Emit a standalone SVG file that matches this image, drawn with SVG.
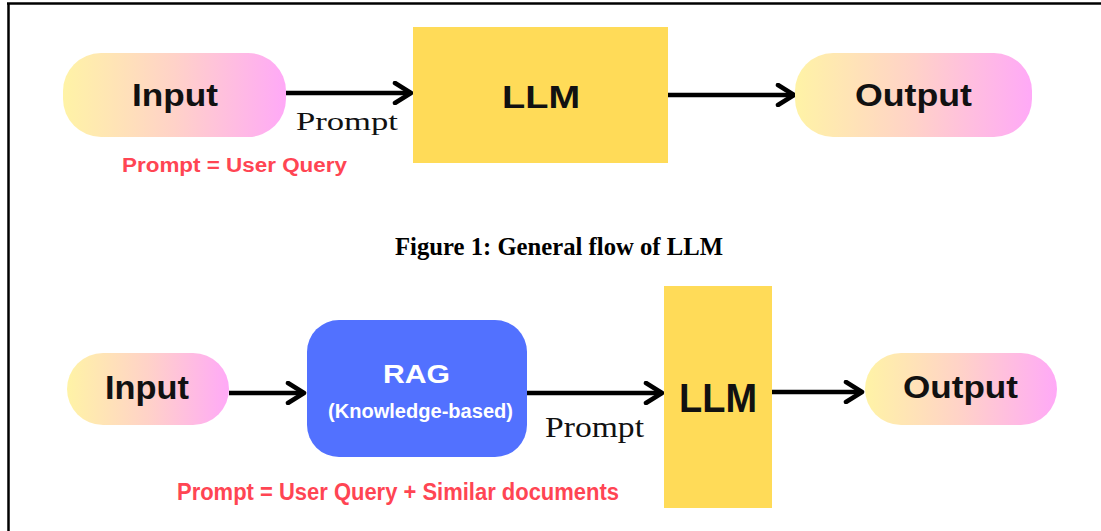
<svg xmlns="http://www.w3.org/2000/svg" width="1101" height="531" viewBox="0 0 1101 531">
<defs>
<linearGradient id="pill" x1="0" y1="0" x2="1" y2="0">
<stop offset="0" stop-color="#fff3a6"/>
<stop offset="0.5" stop-color="#ffd2c8"/>
<stop offset="1" stop-color="#ffa9f7"/>
</linearGradient>
<marker id="chev" markerUnits="userSpaceOnUse" viewBox="0 0 22 24" refX="19" refY="12" markerWidth="22" markerHeight="24" orient="auto">
<path d="M3,2 L19,12 L3,22" fill="none" stroke="#000" stroke-width="4.5" stroke-linecap="round" stroke-linejoin="round"/>
</marker>
<style>
.sans{font-family:"Liberation Sans",Arial,sans-serif;font-weight:bold;}
.serif{font-family:"Liberation Serif","Times New Roman",serif;}
.node{fill:#111;}
.red{fill:#ff4553;}
.white{fill:#fff;}
.conn{stroke:#000;stroke-width:4.5;fill:none;marker-end:url(#chev);}
.llm{fill:#ffdb58;}
</style>
</defs>
<rect width="1101" height="531" fill="#fff"/>
<g id="frame" stroke="#000" fill="none">
<line x1="7" y1="3.5" x2="1101" y2="3.5" stroke-width="2.5"/>
<line x1="8.5" y1="3" x2="8.5" y2="531" stroke-width="2.5"/>
</g>
<g id="connectors">
<line class="conn" x1="286" y1="93" x2="411" y2="93"/>
<line class="conn" x1="668" y1="95" x2="794" y2="95"/>
<line class="conn" x1="229" y1="393" x2="304" y2="393"/>
<line class="conn" x1="527" y1="393" x2="662" y2="393"/>
<line class="conn" x1="772" y1="392" x2="862" y2="392"/>
</g>
<g id="input1">
<rect x="63" y="53" width="223" height="84" rx="38" fill="url(#pill)"/>
<text class="sans node" x="132" y="106" font-size="32" textLength="86" lengthAdjust="spacingAndGlyphs">Input</text>
</g>
<g id="llm1">
<rect class="llm" x="413" y="27" width="255" height="136"/>
<text class="sans node" x="502" y="108" font-size="32" textLength="78" lengthAdjust="spacingAndGlyphs">LLM</text>
</g>
<g id="output1">
<rect x="795" y="53" width="237" height="84" rx="38" fill="url(#pill)"/>
<text class="sans node" x="855" y="106" font-size="32" textLength="117" lengthAdjust="spacingAndGlyphs">Output</text>
</g>
<text class="serif" x="296" y="130" font-size="26" fill="#111" textLength="102" lengthAdjust="spacingAndGlyphs">Prompt</text>
<text class="sans red" x="122" y="172" font-size="20" textLength="225" lengthAdjust="spacingAndGlyphs">Prompt = User Query</text>
<text x="395" y="255" font-family="Liberation Serif,'Times New Roman',serif" font-weight="bold" font-size="25" fill="#000" textLength="328" lengthAdjust="spacingAndGlyphs">Figure 1: General flow of LLM</text>
<g id="input2">
<rect x="67" y="353" width="162" height="72" rx="36" fill="url(#pill)"/>
<text class="sans node" x="105" y="399" font-size="34" textLength="84" lengthAdjust="spacingAndGlyphs">Input</text>
</g>
<g id="rag">
<rect x="307" y="320" width="220" height="137" rx="32" fill="#5271ff"/>
<text class="sans white" x="383" y="383" font-size="25" textLength="67" lengthAdjust="spacingAndGlyphs">RAG</text>
<text class="sans white" x="328" y="418" font-size="20" font-weight="normal" textLength="185" lengthAdjust="spacingAndGlyphs">(Knowledge-based)</text>
</g>
<g id="llm2">
<rect class="llm" x="664" y="286" width="108" height="222"/>
<text class="sans node" x="679" y="412" font-size="40" textLength="78" lengthAdjust="spacingAndGlyphs">LLM</text>
</g>
<g id="output2">
<rect x="865" y="353" width="192" height="72" rx="36" fill="url(#pill)"/>
<text class="sans node" x="903" y="398" font-size="32" textLength="115" lengthAdjust="spacingAndGlyphs">Output</text>
</g>
<text class="serif" x="545" y="437" font-size="30" fill="#111" textLength="99" lengthAdjust="spacingAndGlyphs">Prompt</text>
<text class="sans red" x="177" y="500" font-size="23" textLength="442" lengthAdjust="spacingAndGlyphs">Prompt = User Query + Similar documents</text>
</svg>
